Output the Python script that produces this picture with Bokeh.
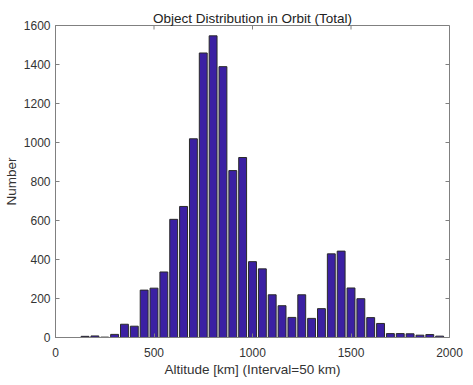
import math
from bokeh.plotting import figure
from bokeh.models import Range1d, FixedTicker, ColumnDataSource
from bokeh.embed import file_html
from bokeh.resources import INLINE

altitude = [150, 200, 250, 300, 350, 400, 450, 500, 550, 600, 650, 700, 750, 800, 850,
            900, 950, 1000, 1050, 1100, 1150, 1200, 1250, 1300, 1350, 1400, 1450, 1500,
            1550, 1600, 1650, 1700, 1750, 1800, 1850, 1900, 1950]
counts = [6, 8, 2, 16, 68, 58, 243, 253, 336, 606, 672, 1019, 1459, 1547, 1389,
          856, 923, 389, 352, 219, 163, 103, 219, 98, 148, 429, 443, 254,
          199, 102, 72, 20, 20, 19, 12, 15, 7]
x_ticks = [0, 500, 1000, 1500, 2000]
y_ticks = [0, 200, 400, 600, 800, 1000, 1200, 1400, 1600]

FONT = "Liberation Sans"
AX = "#808080"
TXT = "#333333"

p = figure(frame_width=394, frame_height=312, output_backend="svg", toolbar_location=None,
           x_range=Range1d(0, 2000), y_range=Range1d(0, 1600),
           min_border_left=49, min_border_right=14, min_border_top=25, min_border_bottom=39,
           title="Object Distribution in Orbit (Total)")
p.title.align = "center"
p.title.text_font = FONT
p.title.text_font_size = "13.5px"
p.title.text_font_style = "normal"
p.title.text_color = "#222222"
p.title.standoff = 0
p.title.offset = 0

src = ColumnDataSource(dict(x=altitude, top=counts))
p.vbar(x="x", top="top", width=40, bottom=0, source=src,
       fill_color="#3b20a3", line_color="#2a2a2a", line_width=1)

# inward tick marks on the top and right edges of the box
p.ray(x=x_ticks, y=[1600] * len(x_ticks), length=4, length_units="screen",
      angle=-math.pi / 2, line_color=AX, line_width=1)
p.ray(x=[2000] * len(y_ticks), y=y_ticks, length=4, length_units="screen",
      angle=math.pi, line_color=AX, line_width=1)

p.xgrid.visible = False
p.ygrid.visible = False
p.outline_line_color = AX
p.outline_line_width = 1

for ax, ticks in ((p.xaxis[0], x_ticks), (p.yaxis[0], y_ticks)):
    ax.ticker = FixedTicker(ticks=ticks)
    ax.minor_tick_line_color = None
    ax.major_tick_in = 4
    ax.major_tick_out = 0
    ax.axis_line_color = AX
    ax.major_tick_line_color = AX
    ax.major_label_text_font = FONT
    ax.major_label_text_font_size = "12px"
    ax.major_label_text_color = TXT
    ax.axis_label_text_font = FONT
    ax.axis_label_text_font_size = "13.5px"
    ax.axis_label_text_font_style = "normal"
    ax.axis_label_text_color = TXT

p.xaxis.axis_label = "Altitude [km] (Interval=50 km)"
p.yaxis.axis_label = "Number"
p.xaxis.major_label_standoff = 10
p.xaxis.axis_label_standoff = 2
p.yaxis.major_label_standoff = 5
p.yaxis.axis_label_standoff = 2

open("out.html", "w").write(file_html(p, INLINE))
